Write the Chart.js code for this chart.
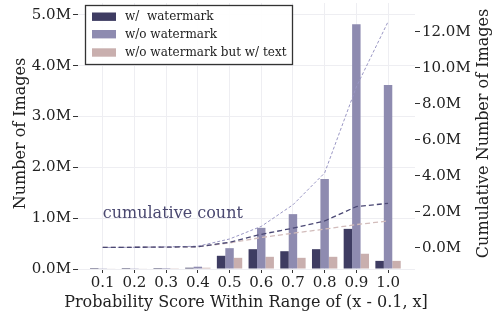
<!DOCTYPE html>
<html>
<head>
<meta charset="utf-8">
<script src="https://cdn.jsdelivr.net/npm/chart.js@4"></script>
<style>
html,body{margin:0;padding:0;background:#fff;}
#wrap{width:493px;height:311px;position:relative;}
</style>
</head>
<body>
<div id="wrap"><canvas id="c" width="493" height="311"></canvas></div>
<script>
// ---- data (values in millions) ----
const categories = ['0.1','0.2','0.3','0.4','0.5','0.6','0.7','0.8','0.9','1.0'];
const seriesNames = ['w/  watermark','w/o watermark','w/o watermark but w/ text'];
const withWatermark    = [0.02, 0.02, 0.02, 0.025, 0.26, 0.39, 0.35, 0.39, 0.79, 0.16];
const withoutWatermark = [0.015, 0.015, 0.02, 0.045, 0.41, 0.81, 1.08, 1.77, 4.82, 3.62];
const withoutButText   = [0.012, 0.012, 0.015, 0.025, 0.22, 0.24, 0.22, 0.24, 0.30, 0.16];
const cumWith     = [0.03, 0.04, 0.05, 0.07, 0.32, 0.76, 1.10, 1.50, 2.30, 2.48];
const cumWithout  = [0.03, 0.04, 0.06, 0.10, 0.50, 1.20, 2.40, 4.17, 8.95, 12.57];
const cumButText  = [0.03, 0.04, 0.05, 0.07, 0.28, 0.58, 0.82, 1.05, 1.30, 1.50];
const leftTicks  = [0, 1, 2, 3, 4, 5];
const rightTicks = [0, 2, 4, 6, 8, 10, 12];
const annotationText = 'cumulative count';
const xTitle = 'Probability Score Within Range of (x - 0.1, x]';
const leftTitle = 'Number of Images';
const rightTitle = 'Cumulative Number of Images';

const colors = ['#3e3c62', '#8e8bb0', '#c9afae'];
const lineColors = ['#4a4874', '#9a97c4', '#d2bcbb'];
const FONT = "'DejaVu Serif', serif";
const TXT = '#222';
const TICK_SIZE = 15;
const TITLE_SIZE = 16;

const pts = arr => arr.map((v, i) => ({x: i, y: v}));

const decorPlugin = {
  id: 'decor',
  afterDraw(chart) {
    const ctx = chart.ctx;
    const xs = chart.scales.x, ys = chart.scales.y;
    const ca = chart.chartArea;
    // annotation text
    ctx.save();
    ctx.font = "16px " + FONT;
    ctx.fillStyle = '#4a4870';
    ctx.textBaseline = 'alphabetic';
    ctx.textAlign = 'left';
    ctx.fillText(annotationText, xs.getPixelForValue(0), ys.getPixelForValue(1.0) - 0.5);
    ctx.restore();
    // axis titles
    ctx.save();
    ctx.font = TITLE_SIZE + "px " + FONT;
    ctx.fillStyle = TXT;
    ctx.textAlign = 'center';
    ctx.textBaseline = 'alphabetic';
    ctx.fillText(xTitle, (ca.left + ca.right) / 2 - 0.5, 306.5);
    ctx.save();
    ctx.translate(25, 133.5);
    ctx.rotate(-Math.PI / 2);
    ctx.fillText(leftTitle, 0, 0);
    ctx.restore();
    ctx.save();
    ctx.translate(488.3, 133.5);
    ctx.rotate(-Math.PI / 2);
    ctx.fillText(rightTitle, 0, 0);
    ctx.restore();
    ctx.restore();
    // legend box
    ctx.save();
    const bx = 85.5, by = 5.5, bw = 207, bh = 59;
    ctx.fillStyle = 'rgba(255,255,255,0.9)';
    ctx.fillRect(bx, by, bw, bh);
    ctx.strokeStyle = '#333';
    ctx.lineWidth = 1.3;
    ctx.strokeRect(bx, by, bw, bh);
    ctx.font = "12px " + FONT;
    ctx.textBaseline = 'middle';
    ctx.textAlign = 'left';
    const rows = [16.7, 34.2, 52.5];
    seriesNames.forEach((n, i) => {
      ctx.fillStyle = colors[i];
      ctx.fillRect(92, rows[i] - 4.2, 24, 8.4);
      ctx.fillStyle = TXT;
      ctx.fillText(n, 125, rows[i] + 0.5);
    });
    ctx.restore();
  }
};

const noPad = s => { s.paddingTop = 0; s.paddingBottom = 0; s.paddingLeft = 0; s.paddingRight = 0; };

new Chart(document.getElementById('c'), {
  type: 'bar',
  data: {
    datasets: [
      {label: seriesNames[0], data: pts(withWatermark), backgroundColor: colors[0], yAxisID: 'y', order: 1,
       categoryPercentage: 0.8, barPercentage: 1.0},
      {label: seriesNames[1], data: pts(withoutWatermark), backgroundColor: colors[1], yAxisID: 'y', order: 1,
       categoryPercentage: 0.8, barPercentage: 1.0},
      {label: seriesNames[2], data: pts(withoutButText), backgroundColor: colors[2], yAxisID: 'y', order: 1,
       categoryPercentage: 0.8, barPercentage: 1.0},
      {type: 'line', label: 'cum1', data: pts(cumWith), borderColor: lineColors[0], borderWidth: 1.3,
       borderDash: [5, 3], pointRadius: 0, yAxisID: 'y2', order: 0, fill: false, tension: 0},
      {type: 'line', label: 'cum2', data: pts(cumWithout), borderColor: lineColors[1], borderWidth: 1.0,
       borderDash: [3, 2], pointRadius: 0, yAxisID: 'y2', order: 0, fill: false, tension: 0},
      {type: 'line', label: 'cum3', data: pts(cumButText), borderColor: lineColors[2], borderWidth: 1.3,
       borderDash: [5, 3], pointRadius: 0, yAxisID: 'y2', order: 0, fill: false, tension: 0}
    ]
  },
  options: {
    responsive: false,
    animation: false,
    devicePixelRatio: 1,
    layout: {padding: {top: 3, left: 0, right: 0, bottom: 0}},
    plugins: {legend: {display: false}, tooltip: {enabled: false}},
    scales: {
      x: {
        type: 'linear', min: -0.78, max: 9.85, offset: false,
        afterBuildTicks: s => { s.ticks = categories.map((c, i) => ({value: i})); },
        afterFit: s => { s.height = 42; noPad(s); },
        ticks: {callback: v => categories[v] ?? '', color: TXT, font: {family: FONT, size: TICK_SIZE}, padding: 1, maxRotation: 0, autoSkip: false},
        grid: {color: '#eeeef2', offset: false, tickColor: '#333', tickLength: 4, drawTicks: true},
        border: {display: false},
        title: {display: false}
      },
      y: {
        position: 'left', min: 0, max: 5.236,
        afterBuildTicks: s => { s.ticks = leftTicks.map(v => ({value: v})); },
        afterFit: s => { s.width = 78; noPad(s); },
        ticks: {callback: v => v.toFixed(1) + 'M', color: TXT, font: {family: FONT, size: TICK_SIZE}, padding: 2},
        grid: {color: '#eeeef2', tickColor: '#333', tickLength: 5},
        border: {display: false},
        title: {display: false}
      },
      y2: {
        position: 'right', min: -1.167, max: 13.61,
        afterBuildTicks: s => { s.ticks = rightTicks.map(v => ({value: v})); },
        afterFit: s => { s.width = 78; noPad(s); },
        ticks: {callback: v => v.toFixed(1) + 'M', color: TXT, font: {family: FONT, size: TICK_SIZE}, padding: 2},
        grid: {drawOnChartArea: false, tickColor: '#333', tickLength: 5},
        border: {display: false},
        title: {display: false}
      }
    }
  },
  plugins: [decorPlugin]
});
</script>
</body>
</html>
